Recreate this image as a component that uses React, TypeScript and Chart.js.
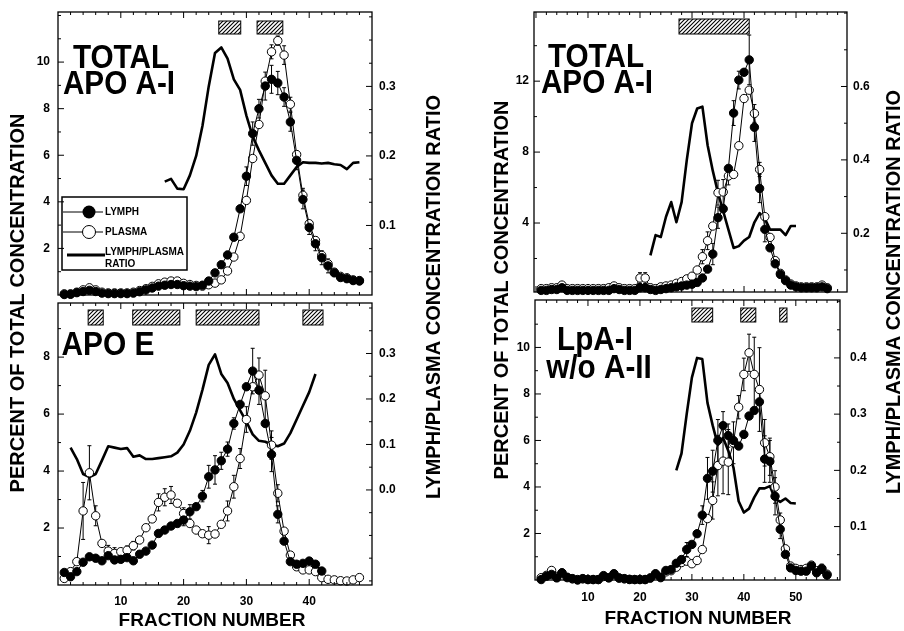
import React, { useEffect, useRef } from 'react';
import { Chart, registerables } from 'chart.js';

Chart.register(...registerables);

const FONT = "'Liberation Sans', Arial, Helvetica, sans-serif";
const W = 904;
const H = 631;

// ---------- shared tick labels ----------
const LEFT_X_TICKS = [10, 20, 30, 40];
const RIGHT_X_TICKS = [10, 20, 30, 40, 50];

// ---------- Panel 1: TOTAL APO A-I (left column) ----------
const P1_START = 1;
const P1_PLASMA = [
  0.05, 0.05, 0.12, 0.22, 0.31, 0.22, 0.12, 0.09, 0.09, 0.09,
  0.09, 0.12, 0.19, 0.27, 0.37, 0.48, 0.55, 0.6, 0.6, 0.5,
  0.45, 0.41, 0.38, 0.44, 0.51, 0.65, 1.03, 1.63, 2.52, 4.06,
  5.86, 7.32, 9.18, 10.44, 10.92, 10.3, 8.19, 6.03, 4.28, 3.06,
  2.34, 1.7, 1.34, 0.98, 0.8, 0.74, 0.65, 0.62,
];
const P1_LYMPH = [
  0.02, 0.03, 0.1, 0.15, 0.2, 0.15, 0.08, 0.06, 0.06, 0.06,
  0.06, 0.08, 0.14, 0.22, 0.3, 0.38, 0.42, 0.45, 0.45, 0.4,
  0.38, 0.36, 0.42, 0.6, 0.95, 1.3, 1.72, 2.48, 3.7, 5.1,
  6.93, 8.0, 8.97, 9.26, 9.1, 8.5, 7.43, 5.78, 4.1, 2.9,
  2.2, 1.6, 1.25, 0.95, 0.75, 0.7, 0.62, 0.6,
];
const P1_RATIO_START = 17;
const P1_RATIO = [
  0.163, 0.167, 0.153, 0.152, 0.172, 0.2, 0.243, 0.3, 0.348, 0.356,
  0.34, 0.31, 0.295, 0.258, 0.228, 0.208, 0.19, 0.172, 0.16, 0.16,
  0.172, 0.184, 0.191, 0.19, 0.19, 0.189, 0.19, 0.188, 0.187, 0.181,
  0.19, 0.191,
];
const P1_PLASMA_ERR = [[34, 0.3], [35, 0.2], [36, 0.4], [37, 0.3], [39, 0.3]];
const P1_LYMPH_ERR = [
  [30, 0.4], [31, 0.5], [32, 0.4], [33, 0.6], [34, 0.6], [35, 0.5], [36, 0.4],
  [37, 0.4], [38, 0.4], [39, 0.4], [40, 0.3], [41, 0.3], [42, 0.3], [43, 0.3],
];
const P1_BARS = [[25.6, 29.1], [31.7, 35.8]];
const P1_Y_TICKS = [2, 4, 6, 8, 10];
const P1_Y2_TICKS = [0.1, 0.2, 0.3];

// ---------- Panel 2: APO E (left column) ----------
const P2_START = 1;
const P2_PLASMA = [
  0.23, 0.47, 0.82, 2.6, 3.94, 2.43, 1.46, 1.19, 1.11, 1.17,
  1.22, 1.38, 1.58, 2.01, 2.32, 2.9, 3.08, 3.16, 2.87, 2.51,
  2.16, 1.93, 1.8, 1.75, 1.79, 2.13, 2.6, 3.45, 4.44, 5.81,
  6.96, 7.37, 6.64, 4.91, 3.22, 1.89, 1.05, 0.64, 0.53, 0.53,
  0.47, 0.26, 0.2, 0.18, 0.15, 0.14, 0.18, 0.26,
];
const P2_LYMPH = [
  0.44, 0.29, 0.47, 0.8, 0.99, 0.94, 0.85, 1.03, 0.88, 0.9,
  0.96, 0.85, 1.08, 1.19, 1.4, 1.81, 1.93, 2.07, 2.16, 2.28,
  2.57, 2.75, 3.12, 3.8, 4.04, 4.36, 4.77, 5.67, 6.34, 6.96,
  7.51, 6.84, 5.67, 4.58, 2.48, 1.54, 0.82, 0.73, 0.76, 0.84,
  0.73, 0.49,
];
const P2_RATIO_START = 2;
const P2_RATIO = [
  0.093, 0.068, 0.035, 0.028, 0.035, 0.065, 0.096, 0.093, 0.09, 0.092,
  0.073, 0.076, 0.068, 0.068, 0.07, 0.072, 0.074, 0.082, 0.1, 0.13,
  0.17, 0.22, 0.275, 0.298, 0.255, 0.235, 0.2, 0.175, 0.15, 0.122,
  0.108, 0.106, 0.1, 0.096, 0.102, 0.125, 0.155, 0.185, 0.215, 0.255,
];
const P2_PLASMA_ERR = [
  [4, 1.0], [5, 0.95], [6, 0.35], [8, 0.2], [9, 0.2], [11, 0.15], [12, 0.15],
  [16, 0.3], [17, 0.3], [18, 0.3], [20, 0.2], [24, 0.3], [27, 0.35], [28, 0.4],
  [29, 0.35], [30, 0.45], [32, 0.6], [33, 0.9], [34, 0.5], [35, 0.3],
];
const P2_LYMPH_ERR = [
  [20, 0.2], [21, 0.25], [23, 0.2], [24, 0.4], [25, 0.5], [26, 0.3], [27, 0.25],
  [28, 0.2], [31, 0.8], [32, 0.5], [34, 0.6], [35, 0.3],
];
const P2_BARS = [[4.8, 7.2], [11.9, 19.4], [22.0, 32.0], [39.0, 42.2]];
const P2_Y_TICKS = [2, 4, 6, 8];
const P2_Y2_TICKS = [0.0, 0.1, 0.2, 0.3];

// ---------- Panel 3: TOTAL APO A-I (right column) ----------
const P3_START = 1;
const P3_PLASMA = [
  0.3, 0.3, 0.35, 0.35, 0.5, 0.3, 0.3, 0.3, 0.3, 0.3,
  0.3, 0.3, 0.3, 0.35, 0.45, 0.35, 0.3, 0.3, 0.3, 0.9,
  0.9, 0.35, 0.3, 0.4, 0.45, 0.5, 0.6, 0.7, 0.85, 1.0,
  1.35, 2.1, 3.0, 3.83, 5.71, 5.75, 6.65, 6.74, 8.36, 11.02,
  11.49, 10.18, 7.02, 4.36, 3.19, 1.88, 1.16, 0.79, 0.56, 0.45,
  0.4, 0.4, 0.4, 0.4, 0.5, 0.35,
];
const P3_LYMPH = [
  0.2, 0.2, 0.25, 0.25, 0.35, 0.2, 0.2, 0.2, 0.2, 0.2,
  0.2, 0.2, 0.2, 0.2, 0.3, 0.25, 0.2, 0.2, 0.2, 0.35,
  0.35, 0.25, 0.2, 0.25, 0.3, 0.35, 0.4, 0.45, 0.5, 0.55,
  0.65, 0.9, 1.4, 2.25, 4.3, 4.8, 7.08, 10.2, 12.06, 12.5,
  13.2, 9.4, 5.95, 3.64, 2.6, 1.7, 1.1, 0.75, 0.5, 0.4,
  0.35, 0.35, 0.35, 0.35, 0.4, 0.3,
];
const P3_RATIO_START = 22;
const P3_RATIO = [
  0.14, 0.195, 0.19, 0.245, 0.285, 0.23, 0.285, 0.4, 0.5, 0.54,
  0.545, 0.44, 0.37, 0.31, 0.26, 0.21, 0.16, 0.165, 0.18, 0.19,
  0.23, 0.255, 0.24, 0.21, 0.21, 0.21, 0.195, 0.22, 0.22,
];
const P3_PLASMA_ERR = [
  [20, 0.3], [21, 0.3], [32, 0.4], [33, 0.5], [35, 0.7], [36, 0.7], [37, 0.5],
  [42, 0.5], [43, 0.4],
];
const P3_LYMPH_ERR = [
  [34, 0.6], [35, 0.6], [38, 0.7], [39, 0.5], [41, 1.4], [42, 0.8], [43, 0.8], [44, 0.7],
];
const P3_BARS = [[27.5, 41.0]];
const P3_Y_TICKS = [4, 8, 12];
const P3_Y2_TICKS = [0.2, 0.4, 0.6];

// ---------- Panel 4: LpA-I w/o A-II (right column) ----------
const P4_START = 1;
const P4_PLASMA = [
  0.1, 0.2, 0.41, 0.15, 0.3, 0.1, 0.05, 0.02, 0.05, 0.02,
  0.02, 0.02, 0.15, 0.1, 0.25, 0.08, 0.05, 0.02, 0.02, 0.02,
  0.02, 0.08, 0.25, 0.1, 0.35, 0.4, 0.55, 0.75, 0.81, 0.7,
  0.84, 1.31, 2.64, 3.42, 4.92, 5.11, 5.07, 5.9, 7.43, 8.84,
  9.77, 8.84, 8.19, 5.9, 5.3, 4.0, 2.58, 1.34, 0.6, 0.5,
  0.45, 0.5, 0.64, 0.4, 0.5, 0.25,
];
const P4_LYMPH = [
  0.02, 0.16, 0.24, 0.09, 0.31, 0.12, 0.06, 0.0, 0.06, 0.02,
  0.02, 0.02, 0.19, 0.09, 0.27, 0.09, 0.06, 0.03, 0.02, 0.02,
  0.02, 0.09, 0.27, 0.12, 0.41, 0.45, 0.72, 0.88, 1.31, 1.53,
  1.99, 2.79, 4.37, 4.68, 6.0, 6.64, 6.21, 6.0, 5.76, 6.26,
  7.05, 7.29, 7.66, 5.2, 5.1, 3.6, 2.18, 1.1, 0.52, 0.41,
  0.38, 0.38, 0.6, 0.31, 0.48, 0.21,
];
const P4_RATIO_START = 27;
const P4_RATIO = [
  0.2, 0.23, 0.3, 0.365, 0.4, 0.398, 0.32, 0.28, 0.245, 0.258,
  0.235, 0.205, 0.145, 0.125, 0.132, 0.152, 0.168, 0.168, 0.172, 0.15,
  0.144, 0.15, 0.142, 0.141,
];
const P4_PLASMA_ERR = [
  [34, 0.8], [35, 1.3], [36, 1.4], [37, 1.4], [38, 0.9], [39, 0.5], [40, 0.7],
  [41, 0.8], [42, 1.6], [43, 1.8], [44, 1.0], [45, 0.8], [46, 0.7], [47, 0.3],
];
const P4_LYMPH_ERR = [
  [29, 0.3], [32, 0.4], [33, 0.9], [34, 0.9], [35, 0.9], [36, 0.6], [37, 0.5],
  [44, 1.0], [45, 0.9], [46, 0.8], [47, 0.4], [55, 0.2],
];
const P4_BARS = [[30.0, 34.0], [39.4, 42.3], [46.9, 48.3]];
const P4_Y_TICKS = [2, 4, 6, 8, 10];
const P4_Y2_TICKS = [0.1, 0.2, 0.3, 0.4];

// ---------- text ----------
const Y_TITLE = 'PERCENT OF TOTAL CONCENTRATION';
const Y2_TITLE = 'LYMPH/PLASMA CONCENTRATION RATIO';
const X_TITLE = 'FRACTION NUMBER';
const LEGEND_LABELS = ['LYMPH', 'PLASMA', 'LYMPH/PLASMA', 'RATIO'];

type Txt = { text: string; x: number; y: number; size: number; rot?: number; sx?: number };

type PanelCfg = {
  id: string;
  area: { l: number; t: number; r: number; b: number };
  xMin: number; xMax: number; yMin: number; yMax: number; y2Min: number; y2Max: number;
  xTicks: number[]; showX: boolean; xPad: number;
  yTicks: number[]; y2Ticks: number[]; yPad: number; y2Pad: number;
  xMinor: number; yMinor: number; y2Minor: number;
  start: number; lymph: number[]; plasma: number[];
  ratioStart: number; ratio: number[];
  lymphErr: number[][]; plasmaErr: number[][];
  bars: number[][]; barTop: number; barH: number;
  labels: Txt[];
  texts: Txt[];
  legend: boolean;
};

const PANELS: PanelCfg[] = [
  {
    id: 'p1', area: { l: 58, t: 12, r: 372, b: 295 },
    xMin: 0, xMax: 50, yMin: 0, yMax: 12.15, y2Min: 0, y2Max: 0.407,
    xTicks: LEFT_X_TICKS, showX: false, xPad: 9,
    yTicks: P1_Y_TICKS, y2Ticks: P1_Y2_TICKS, yPad: 8, y2Pad: 7,
    xMinor: 2, yMinor: 1, y2Minor: 0.1 / 3,
    start: P1_START, lymph: P1_LYMPH, plasma: P1_PLASMA,
    ratioStart: P1_RATIO_START, ratio: P1_RATIO,
    lymphErr: P1_LYMPH_ERR, plasmaErr: P1_PLASMA_ERR,
    bars: P1_BARS, barTop: 9, barH: 13,
    labels: [
      { text: 'TOTAL', x: 121, y: 68, size: 33, sx: 0.9 },
      { text: 'APO A-I', x: 119, y: 94, size: 33, sx: 0.9 },
    ],
    texts: [], legend: true,
  },
  {
    id: 'p2', area: { l: 58, t: 303, r: 372, b: 585 },
    xMin: 0, xMax: 50, yMin: 0, yMax: 9.9, y2Min: -0.209, y2Max: 0.411,
    xTicks: LEFT_X_TICKS, showX: true, xPad: 9,
    yTicks: P2_Y_TICKS, y2Ticks: P2_Y2_TICKS, yPad: 8, y2Pad: 7,
    xMinor: 2, yMinor: 1, y2Minor: 0.05,
    start: P2_START, lymph: P2_LYMPH, plasma: P2_PLASMA,
    ratioStart: P2_RATIO_START, ratio: P2_RATIO,
    lymphErr: P2_LYMPH_ERR, plasmaErr: P2_PLASMA_ERR,
    bars: P2_BARS, barTop: 7, barH: 15,
    labels: [{ text: 'APO E', x: 108, y: 355, size: 34, sx: 0.88 }],
    texts: [
      { text: Y_TITLE, x: 18, y: 303, size: 20, rot: -Math.PI / 2 },
      { text: Y2_TITLE, x: 434, y: 297, size: 20, rot: -Math.PI / 2 },
      { text: X_TITLE, x: 212, y: 621, size: 19 },
    ],
    legend: false,
  },
  {
    id: 'p3', area: { l: 534, t: 12, r: 847, b: 292 },
    xMin: -0.38, xMax: 59.8, yMin: 0.11, yMax: 15.9, y2Min: 0.04, y2Max: 0.803,
    xTicks: RIGHT_X_TICKS, showX: false, xPad: 10,
    yTicks: P3_Y_TICKS, y2Ticks: P3_Y2_TICKS, yPad: 5, y2Pad: 6,
    xMinor: 2, yMinor: 2, y2Minor: 0.1,
    start: P3_START, lymph: P3_LYMPH, plasma: P3_PLASMA,
    ratioStart: P3_RATIO_START, ratio: P3_RATIO,
    lymphErr: P3_LYMPH_ERR, plasmaErr: P3_PLASMA_ERR,
    bars: P3_BARS, barTop: 7, barH: 15,
    labels: [
      { text: 'TOTAL', x: 596, y: 67, size: 33, sx: 0.9 },
      { text: 'APO A-I', x: 597, y: 93, size: 33, sx: 0.9 },
    ],
    texts: [], legend: false,
  },
  {
    id: 'p4', area: { l: 535, t: 300, r: 840, b: 580 },
    xMin: -0.19, xMax: 58.5, yMin: 0, yMax: 12.04, y2Min: 0.005, y2Max: 0.503,
    xTicks: RIGHT_X_TICKS, showX: true, xPad: 10,
    yTicks: P4_Y_TICKS, y2Ticks: P4_Y2_TICKS, yPad: 5, y2Pad: 10,
    xMinor: 2, yMinor: 1, y2Minor: 0.05,
    start: P4_START, lymph: P4_LYMPH, plasma: P4_PLASMA,
    ratioStart: P4_RATIO_START, ratio: P4_RATIO,
    lymphErr: P4_LYMPH_ERR, plasmaErr: P4_PLASMA_ERR,
    bars: P4_BARS, barTop: 8, barH: 14,
    labels: [
      { text: 'LpA-I', x: 595, y: 350, size: 33, sx: 0.9 },
      { text: 'w/o A-II', x: 599, y: 378, size: 33, sx: 0.9 },
    ],
    texts: [
      { text: Y_TITLE, x: 502, y: 290, size: 20, rot: -Math.PI / 2 },
      { text: Y2_TITLE, x: 894, y: 292, size: 20, rot: -Math.PI / 2 },
      { text: X_TITLE, x: 698, y: 619, size: 19 },
    ],
    legend: false,
  },
];

function stepRange(min: number, max: number, step: number) {
  const out: number[] = [];
  const k0 = Math.ceil(min / step - 1e-6);
  for (let k = k0; k * step <= max + 1e-9; k++) out.push(k * step);
  return out;
}
const near = (arr: number[], v: number) => arr.some((a) => Math.abs(a - v) < 1e-6);

function makeDecor(c: PanelCfg) {
  let pattern: any = null;
  const getPattern = (ctx: CanvasRenderingContext2D) => {
    if (!pattern) {
      const pc = document.createElement('canvas');
      pc.width = 4;
      pc.height = 4;
      const p = pc.getContext('2d')!;
      p.fillStyle = '#fff';
      p.fillRect(0, 0, 4, 4);
      p.strokeStyle = '#000';
      p.lineWidth = 1.1;
      p.beginPath();
      p.moveTo(-1, 5); p.lineTo(5, -1);
      p.moveTo(-1, 1); p.lineTo(1, -1);
      p.moveTo(3, 5); p.lineTo(5, 3);
      p.stroke();
      pattern = ctx.createPattern(pc, 'repeat');
    }
    return pattern;
  };
  return {
    id: 'decor_' + c.id,
    beforeDatasetsDraw(chart: any) {
      const ctx = chart.ctx as CanvasRenderingContext2D;
      const xs = chart.scales.x;
      const ys = chart.scales.y;
      ctx.save();
      ctx.strokeStyle = '#000';
      ctx.lineWidth = 1;
      const drawErr = (vals: number[], errs: number[][]) => {
        for (const [f, e] of errs) {
          const v = vals[f - c.start];
          if (v === undefined) continue;
          const px = xs.getPixelForValue(f);
          const yt = ys.getPixelForValue(v + e);
          const yb = ys.getPixelForValue(Math.max(v - e, ys.min));
          ctx.beginPath();
          ctx.moveTo(px, yb); ctx.lineTo(px, yt);
          ctx.moveTo(px - 2, yt); ctx.lineTo(px + 2, yt);
          ctx.moveTo(px - 2, yb); ctx.lineTo(px + 2, yb);
          ctx.stroke();
        }
      };
      drawErr(c.plasma, c.plasmaErr);
      drawErr(c.lymph, c.lymphErr);
      ctx.restore();
    },
    afterDraw(chart: any) {
      const ctx = chart.ctx as CanvasRenderingContext2D;
      const xs = chart.scales.x;
      const ys = chart.scales.y;
      const y2s = chart.scales.y2;
      const { left: l, right: r, top: t, bottom: b } = chart.chartArea;
      ctx.save();
      ctx.strokeStyle = '#000';
      ctx.fillStyle = '#000';
      // frame
      ctx.lineWidth = 1.3;
      ctx.strokeRect(l, t, r - l, b - t);
      // inward ticks
      ctx.lineWidth = 1;
      const seg = (x0: number, y0: number, x1: number, y1: number) => {
        ctx.beginPath(); ctx.moveTo(x0, y0); ctx.lineTo(x1, y1); ctx.stroke();
      };
      for (const v of stepRange(xs.min, xs.max, c.xMinor)) {
        const px = xs.getPixelForValue(v);
        if (px < l + 1 || px > r - 1) continue;
        const len = Math.abs(v / 10 - Math.round(v / 10)) < 1e-6 ? 6 : 3;
        seg(px, b, px, b - len);
        seg(px, t, px, t + len);
      }
      for (const v of stepRange(ys.min, ys.max, c.yMinor)) {
        const py = ys.getPixelForValue(v);
        if (py < t + 1 || py > b - 1) continue;
        const len = near(c.yTicks, v) ? 6 : 3;
        seg(l, py, l + len, py);
      }
      for (const v of stepRange(y2s.min, y2s.max, c.y2Minor)) {
        const py = y2s.getPixelForValue(v);
        if (py < t + 1 || py > b - 1) continue;
        const len = near(c.y2Ticks, v) ? 6 : 3;
        seg(r, py, r - len, py);
      }
      // hatched bars
      ctx.lineWidth = 1;
      for (const [a, e] of c.bars) {
        const x0 = xs.getPixelForValue(a);
        const x1 = xs.getPixelForValue(e);
        const y0 = t + c.barTop;
        ctx.fillStyle = getPattern(ctx);
        ctx.fillRect(x0, y0, x1 - x0, c.barH);
        ctx.strokeRect(x0, y0, x1 - x0, c.barH);
      }
      ctx.fillStyle = '#000';
      // panel labels
      for (const lab of c.labels) {
        ctx.save();
        ctx.font = `bold ${lab.size}px ${FONT}`;
        ctx.textAlign = 'center';
        ctx.textBaseline = 'alphabetic';
        ctx.translate(lab.x, lab.y);
        ctx.scale(lab.sx || 1, 1);
        ctx.fillText(lab.text, 0, 0);
        ctx.restore();
      }
      // legend
      if (c.legend) {
        ctx.lineWidth = 1.5;
        ctx.strokeRect(62, 197, 125, 73);
        ctx.lineWidth = 1;
        seg(63, 212, 103, 212);
        ctx.beginPath(); ctx.arc(89, 212, 6.5, 0, Math.PI * 2); ctx.fill();
        seg(63, 232, 103, 232);
        ctx.beginPath(); ctx.arc(89, 232, 6.5, 0, Math.PI * 2);
        ctx.fillStyle = '#fff'; ctx.fill(); ctx.stroke(); ctx.fillStyle = '#000';
        ctx.lineWidth = 3;
        seg(67, 255, 105, 255);
        ctx.font = `bold 10px ${FONT}`;
        ctx.textAlign = 'left';
        ctx.textBaseline = 'middle';
        ctx.fillText(LEGEND_LABELS[0], 105, 212);
        ctx.fillText(LEGEND_LABELS[1], 105, 232);
        ctx.fillText(LEGEND_LABELS[2], 105, 252);
        ctx.fillText(LEGEND_LABELS[3], 105, 264);
      }
      // axis titles
      for (const tx of c.texts) {
        ctx.save();
        ctx.font = `bold ${tx.size}px ${FONT}`;
        ctx.textAlign = 'center';
        ctx.textBaseline = 'middle';
        ctx.translate(tx.x, tx.y);
        if (tx.rot) ctx.rotate(tx.rot);
        ctx.fillText(tx.text, 0, 0);
        ctx.restore();
      }
      ctx.restore();
    },
  };
}

function buildChart(canvas: HTMLCanvasElement, c: PanelCfg) {
  const LW = 40;
  const RW = 40;
  const XH = c.showX ? 30 : 0;
  const pad = {
    left: c.area.l - LW,
    right: W - c.area.r - RW,
    top: c.area.t,
    bottom: H - c.area.b - XH,
  };
  const tickFont = { family: FONT, weight: 'bold' as const, size: 12 };
  const pts = (start: number, vals: number[]) => vals.map((v, i) => ({ x: start + i, y: v }));
  const fixV = (w: number) => (s: any) => {
    s.width = w;
    s.paddingTop = 0;
    s.paddingBottom = 0;
  };
  return new Chart(canvas, {
    type: 'line',
    data: {
      datasets: [
        {
          label: 'LYMPH', data: pts(c.start, c.lymph), yAxisID: 'y',
          borderColor: '#000', borderWidth: 1, tension: 0,
          pointRadius: 4.2, pointBackgroundColor: '#000', pointBorderColor: '#000', pointBorderWidth: 1,
          clip: false,
        },
        {
          label: 'PLASMA', data: pts(c.start, c.plasma), yAxisID: 'y',
          borderColor: '#000', borderWidth: 1, tension: 0,
          pointRadius: 4.2, pointBackgroundColor: '#fff', pointBorderColor: '#000', pointBorderWidth: 1,
          clip: false,
        },
        {
          label: 'LYMPH/PLASMA RATIO', data: pts(c.ratioStart, c.ratio), yAxisID: 'y2',
          borderColor: '#000', borderWidth: 2.6, tension: 0, pointRadius: 0,
          borderJoinStyle: 'round', clip: false,
        },
      ] as any,
    },
    options: {
      responsive: false,
      animation: false,
      devicePixelRatio: 1,
      layout: { padding: pad },
      plugins: { legend: { display: false }, tooltip: { enabled: false } },
      scales: {
        x: {
          type: 'linear', position: 'bottom', min: c.xMin, max: c.xMax,
          afterBuildTicks: (s: any) => { s.ticks = c.xTicks.map((v) => ({ value: v })); },
          afterFit: (s: any) => { s.height = XH; s.paddingLeft = 0; s.paddingRight = 0; },
          ticks: {
            display: c.showX, font: tickFont, color: '#000', padding: c.xPad,
            maxRotation: 0, autoSkip: false, callback: (v: any) => String(v),
          },
          grid: { display: false, drawTicks: false },
          border: { display: false },
        },
        y: {
          type: 'linear', position: 'left', min: c.yMin, max: c.yMax,
          afterBuildTicks: (s: any) => { s.ticks = c.yTicks.map((v) => ({ value: v })); },
          afterFit: fixV(LW),
          ticks: { font: tickFont, color: '#000', padding: c.yPad, callback: (v: any) => String(v) },
          grid: { display: false, drawTicks: false },
          border: { display: false },
        },
        y2: {
          type: 'linear', position: 'right', min: c.y2Min, max: c.y2Max,
          afterBuildTicks: (s: any) => { s.ticks = c.y2Ticks.map((v) => ({ value: v })); },
          afterFit: fixV(RW),
          ticks: { font: tickFont, color: '#000', padding: c.y2Pad, callback: (v: any) => Number(v).toFixed(1) },
          grid: { display: false, drawTicks: false },
          border: { display: false },
        },
      },
    } as any,
    plugins: [makeDecor(c)],
  });
}

function PanelChart({ cfg }: { cfg: PanelCfg }) {
  const ref = useRef<HTMLCanvasElement>(null);
  useEffect(() => {
    const chart = buildChart(ref.current!, cfg);
    return () => chart.destroy();
  }, [cfg]);
  return (
    <canvas
      ref={ref}
      width={W}
      height={H}
      style={{ position: 'absolute', left: 0, top: 0, width: W, height: H }}
    />
  );
}

export default function App() {
  return (
    <div
      style={{
        position: 'fixed', left: 0, top: 0, width: W, height: H,
        background: '#fff', overflow: 'hidden',
      }}
    >
      {PANELS.map((p) => (
        <PanelChart key={p.id} cfg={p} />
      ))}
    </div>
  );
}
